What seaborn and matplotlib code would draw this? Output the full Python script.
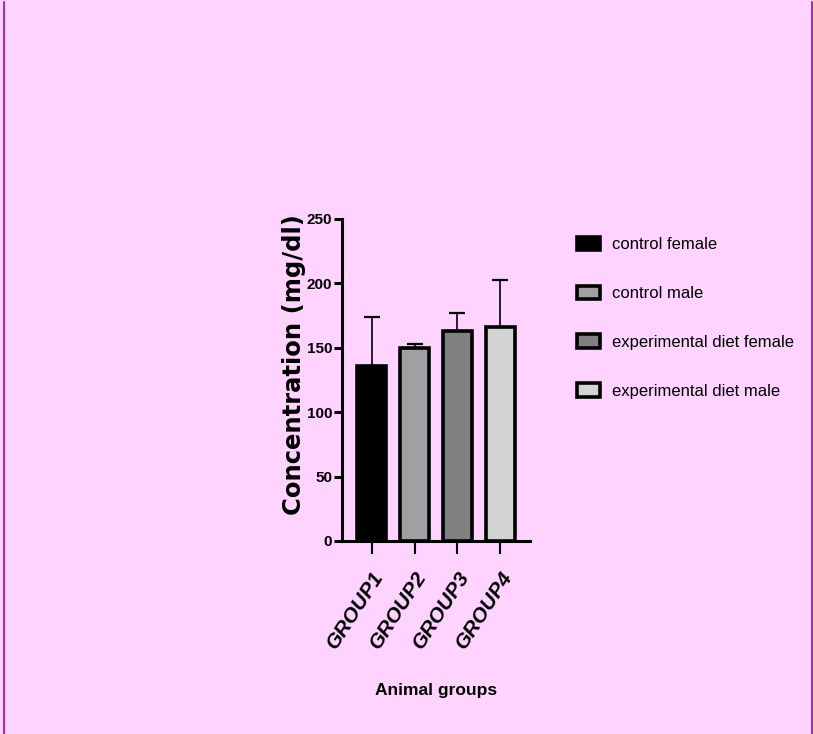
import pandas as pd
import numpy as np
import matplotlib
matplotlib.use("Agg")
import matplotlib.pyplot as plt
from matplotlib.lines import Line2D
import seaborn as sns

# values
groups = ["GROUP1", "GROUP2", "GROUP3", "GROUP4"]
labels = ["control female", "control male", "experimental diet female", "experimental diet male"]
means = [136, 150, 163, 166]
sds = [38, 3, 14, 37]
colors = ["#000000", "#A0A0A3", "#808080", "#D4D4D4"]
yticks = [0, 50, 100, 150, 200, 250]

bg = "#FFD3FF"

sns.set_style("ticks")
plt.rcParams["font.family"] = ["Liberation Sans", "DejaVu Sans"]
plt.rcParams["text.color"] = "black"
plt.rcParams["axes.labelcolor"] = "black"

df = pd.DataFrame({"group": groups, "label": labels, "mean": means, "sd": sds})

fig = plt.figure(figsize=(8.13, 7.34), dpi=100, facecolor=bg)
ax = fig.add_axes([342 / 813, 1 - 541 / 734, 188 / 813, 322 / 734])
ax.set_facecolor(bg)

sns.barplot(data=df, x="group", y="mean", hue="label", hue_order=labels,
            palette=colors, dodge=False, width=0.667, edgecolor="black",
            linewidth=2.6, errorbar=None, ax=ax)

# upward-only SD bars
ax.errorbar(np.arange(len(groups)), means, yerr=[np.zeros(len(sds)), sds],
            fmt="none", ecolor="black", elinewidth=1.2, capsize=5.6, capthick=1.6,
            zorder=1)

ax.set_xlim(-0.69, 3.69)
ax.set_ylim(0, 250)
ax.set_yticks(yticks)
ax.set_yticklabels([str(t) for t in yticks], fontsize=11, fontweight="bold")
ax.set_xticks(range(len(groups)))
ax.set_xticklabels(groups, rotation=57, ha="right", va="top",
                   rotation_mode="anchor", fontsize=15, fontweight="bold",
                   fontstyle="italic")

for s in ["top", "right"]:
    ax.spines[s].set_visible(False)
for s in ["left", "bottom"]:
    ax.spines[s].set_linewidth(2.2)
    ax.spines[s].set_color("black")
ax.tick_params(axis="y", length=6, width=2.2, pad=1, colors="black")
ax.tick_params(axis="x", length=9, width=1.5, pad=10, colors="black")

ax.set_ylabel("Concentration (mg/dl)", fontsize=17.5, fontweight="bold",
              family=["DejaVu Sans"])
ax.yaxis.set_label_coords(-0.19, 0.547)
ax.set_xlabel("Animal groups", fontsize=12.5, fontweight="bold")
ax.xaxis.set_label_coords(0.5, -0.44)

handles, lbls = ax.get_legend_handles_labels()
if ax.get_legend() is not None:
    ax.get_legend().remove()
for h in handles:
    h.set_edgecolor("black")
    h.set_linewidth(2.6)
leg = fig.legend(handles, lbls, loc="upper left", bbox_to_anchor=(577 / 813, 1 - 237 / 734),
                 frameon=False, borderpad=0, borderaxespad=0, handlelength=1.38,
                 handleheight=0.85, handletextpad=0.72, labelspacing=2.0,
                 prop={"size": 12})

# thin purple frame lines at the page edges
fig.add_artist(Line2D([4 / 813, 4 / 813], [0, 0.997], color="#A030B0", lw=1.5))
fig.add_artist(Line2D([811.5 / 813, 811.5 / 813], [0, 0.997], color="#A030B0", lw=1.5))

fig.savefig("out.png", dpi=100, facecolor=bg)
